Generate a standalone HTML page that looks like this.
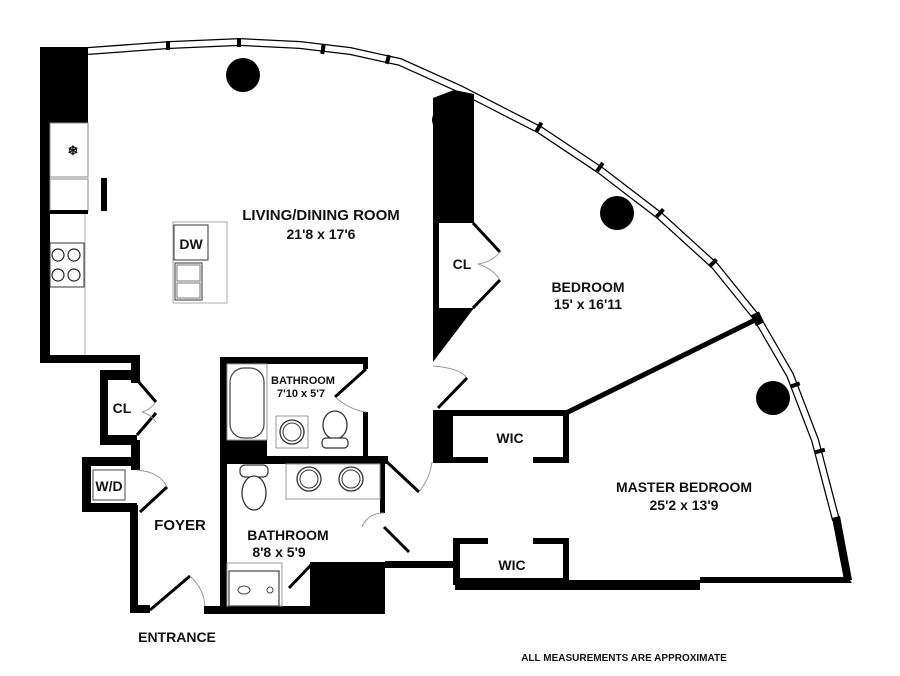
<!DOCTYPE html>
<html><head><meta charset="utf-8"><style>
html,body{margin:0;padding:0;background:#fff}
svg{display:block}
text{font-family:"Liberation Sans",Arial,sans-serif;font-weight:bold;fill:#111}
</style></head><body>
<svg width="900" height="676" viewBox="0 0 900 676" xmlns="http://www.w3.org/2000/svg">
<rect width="900" height="676" fill="#fff"/>
<polyline fill="none" stroke="#000" stroke-width="8" points="88,51 170,45 240,42 300,45 350,51 400,62 460,89 540,130 600,170 660,216 715,266 757,318 790,375 815,440 836,520"/>
<polyline fill="none" stroke="#fff" stroke-width="5.5" points="88,51 170,45 240,42 300,45 350,51 400,62 460,89 540,130 600,170 660,216 715,266 757,318 790,375 815,440 836,520"/>
<g fill="#000">
<rect x="166" y="41" width="4" height="9"/><rect x="237" y="38" width="4" height="9"/>
<rect x="321" y="45" width="4" height="9" transform="rotate(8 323 49)"/>
<rect x="386" y="55" width="4" height="9" transform="rotate(15 388 59)"/>
<rect x="537" y="122" width="4" height="10" transform="rotate(30 539 127)"/>
<rect x="598" y="162" width="4" height="10" transform="rotate(35 600 167)"/>
<rect x="658" y="208" width="4" height="10" transform="rotate(42 660 213)"/>
<rect x="711" y="258" width="4" height="10" transform="rotate(45 713 263)"/>
<rect x="793" y="380" width="4" height="10" transform="rotate(70 795 385)"/>
<rect x="818" y="446" width="4" height="10" transform="rotate(75 820 451)"/>
</g>
<polygon points="832,518 840,516 852,580 844,580" fill="#000"/>
<rect x="40" y="47" width="48" height="76" fill="#000"/>
<rect x="40" y="120" width="10" height="243" fill="#000"/>
<rect x="50" y="123" width="38" height="54" fill="#fff" stroke="#888" stroke-width="1"/>
<text x="73" y="155" font-size="13" font-weight="normal" text-anchor="middle">❄</text>
<rect x="50" y="179" width="38" height="32" fill="#fff" stroke="#888" stroke-width="1"/>
<rect x="101" y="178" width="6" height="33" fill="#000"/>
<rect x="50" y="210" width="38" height="4" fill="#000"/>
<line x1="85" y1="214" x2="85" y2="355" stroke="#aaa" stroke-width="1"/>
<rect x="50" y="243" width="34" height="44" fill="#fff" stroke="#333" stroke-width="1"/>
<g fill="none" stroke="#222" stroke-width="1.2"><circle cx="58" cy="255" r="6"/><circle cx="74" cy="255" r="6"/><circle cx="58" cy="275" r="6"/><circle cx="74" cy="275" r="6"/></g>
<rect x="40" y="355" width="100" height="8" fill="#000"/>
<rect x="131" y="355" width="9" height="28" fill="#000"/>
<path d="M100,370 H137 V380 H108 V435 H137 V445 H100 Z" fill="#000"/>
<line x1="137" y1="380" x2="156" y2="402" stroke="#000" stroke-width="3"/>
<line x1="137" y1="435" x2="156" y2="413" stroke="#000" stroke-width="3"/>
<path d="M142,412 Q150,410 156,402 M142,412 Q150,414 156,422" fill="none" stroke="#999" stroke-width="1"/>
<text x="122" y="413" font-size="14" text-anchor="middle">CL</text>
<rect x="131" y="440" width="9" height="30" fill="#000"/>
<path d="M82,457 H140 V466 H91 V503 H137 V512 H82 Z" fill="#000"/>
<rect x="93" y="470" width="32" height="30" fill="#fff" stroke="#444" stroke-width="1"/>
<text x="109" y="491" font-size="14" text-anchor="middle">W/D</text>
<line x1="140" y1="512" x2="167" y2="487" stroke="#000" stroke-width="3"/>
<path d="M137,470 Q160,472 167,487" fill="none" stroke="#999" stroke-width="1"/>
<rect x="130" y="505" width="8" height="108" fill="#000"/>
<rect x="130" y="605" width="20" height="8" fill="#000"/>
<line x1="150" y1="610" x2="190" y2="576" stroke="#000" stroke-width="3"/>
<path d="M190,576 Q205,590 205,608" fill="none" stroke="#999" stroke-width="1"/>
<text x="180" y="530" font-size="15" text-anchor="middle">FOYER</text>
<text x="177" y="642" font-size="14" text-anchor="middle">ENTRANCE</text>
<rect x="204" y="606" width="181" height="8" fill="#000"/>
<rect x="220" y="357" width="7" height="255" fill="#000"/>
<rect x="220" y="357" width="147" height="7" fill="#000"/>
<rect x="363" y="357" width="5" height="12" fill="#000"/>
<rect x="363" y="412" width="5" height="50" fill="#000"/>
<rect x="227" y="440" width="40" height="20" fill="#000"/>
<rect x="220" y="456" width="168" height="8" fill="#000"/>
<line x1="366" y1="369" x2="335" y2="397" stroke="#000" stroke-width="3"/>
<path d="M335,397 Q350,410 366,412" fill="none" stroke="#999" stroke-width="1"/>
<rect x="227" y="364" width="40" height="76" fill="none" stroke="#999" stroke-width="1"/>
<rect x="230" y="368" width="34" height="70" rx="14" fill="#fff" stroke="#444" stroke-width="1.2"/>
<rect x="276" y="416" width="32" height="32" fill="none" stroke="#999" stroke-width="1"/>
<circle cx="292" cy="432" r="12" fill="#fff" stroke="#333" stroke-width="1.3"/><circle cx="292" cy="432" r="9" fill="none" stroke="#333"/>
<ellipse cx="335" cy="425" rx="12" ry="14" fill="#fff" stroke="#333" stroke-width="1.3"/>
<rect x="322" y="438" width="26" height="10" rx="4" fill="#fff" stroke="#333" stroke-width="1.2"/>
<text x="303" y="384" font-size="11" font-weight="normal" text-anchor="middle">BATHROOM</text>
<text x="301" y="397" font-size="11" font-weight="normal" text-anchor="middle">7'10 x 5'7</text>
<rect x="380" y="463" width="5" height="50" fill="#000"/>
<line x1="384" y1="527" x2="409" y2="552" stroke="#000" stroke-width="3"/>
<path d="M384,513 Q368,513 362,527" fill="none" stroke="#999" stroke-width="1"/>
<rect x="286" y="464" width="94" height="35" fill="none" stroke="#999" stroke-width="1"/>
<circle cx="309" cy="479" r="12" fill="#fff" stroke="#333" stroke-width="1.3"/><circle cx="309" cy="479" r="9" fill="none" stroke="#333"/>
<circle cx="351" cy="479" r="12" fill="#fff" stroke="#333" stroke-width="1.3"/><circle cx="351" cy="479" r="9" fill="none" stroke="#333"/>
<rect x="240" y="465" width="28" height="12" rx="5" fill="#fff" stroke="#333" stroke-width="1.2"/>
<ellipse cx="254" cy="493" rx="12" ry="17" fill="#fff" stroke="#333" stroke-width="1.3"/>
<rect x="227" y="563" width="55" height="43" fill="none" stroke="#999" stroke-width="1"/>
<rect x="229" y="571" width="50" height="35" fill="#fff" stroke="#444" stroke-width="1.2"/>
<ellipse cx="244" cy="590" rx="6" ry="4" fill="none" stroke="#444"/>
<circle cx="270" cy="590" r="3" fill="none" stroke="#444"/>
<line x1="289" y1="588" x2="311" y2="565" stroke="#000" stroke-width="3"/>
<text x="288" y="540" font-size="14" font-weight="normal" text-anchor="middle">BATHROOM</text>
<text x="279" y="557" font-size="14" font-weight="normal" text-anchor="middle">8'8 x 5'9</text>
<rect x="310" y="562" width="75" height="52" fill="#000"/>
<rect x="385" y="561" width="72" height="7" fill="#000"/>
<line x1="387" y1="462" x2="419" y2="492" stroke="#000" stroke-width="3"/>
<path d="M419,492 Q430,478 432,462" fill="none" stroke="#999" stroke-width="1"/>
<polygon points="433,98 454,90 474,94 474,223 433,223" fill="#000"/>
<circle cx="443" cy="120" r="11" fill="#000"/>
<rect x="433" y="223" width="6" height="85" fill="#000"/>
<line x1="473" y1="223" x2="500" y2="252" stroke="#000" stroke-width="3"/>
<line x1="473" y1="308" x2="500" y2="280" stroke="#000" stroke-width="3"/>
<path d="M478,264 Q492,262 500,252 M478,264 Q492,268 500,280" fill="none" stroke="#999" stroke-width="1"/>
<text x="462" y="269" font-size="14" text-anchor="middle">CL</text>
<polygon points="433,308 474,308 433,362" fill="#000"/>
<path d="M433,366 Q460,368 467,378" fill="none" stroke="#999" stroke-width="1"/>
<line x1="467" y1="378" x2="438" y2="408" stroke="#000" stroke-width="3"/>
<rect x="433" y="410" width="20" height="52" fill="#000"/>
<rect x="436" y="410" width="133" height="6" fill="#000"/>
<line x1="566" y1="413" x2="757" y2="319" stroke="#000" stroke-width="5"/>
<rect x="753" y="313" width="9" height="12" fill="#000" transform="rotate(-25 757 319)"/>
<rect x="563" y="410" width="6" height="53" fill="#000"/>
<rect x="433" y="457" width="55" height="6" fill="#000"/>
<rect x="533" y="457" width="36" height="6" fill="#000"/>
<text x="510" y="443" font-size="14" text-anchor="middle">WIC</text>
<path d="M453,538 H488 V544 H460 V578 H563 V544 H533 V538 H569 V585 H453 Z" fill="#000"/>
<polygon points="455,585 455,580 700,580 700,577 848,577 852,583 700,583 700,590 455,590" fill="#000"/>
<text x="512" y="570" font-size="14" text-anchor="middle">WIC</text>
<circle cx="243" cy="75" r="17" fill="#000"/>
<circle cx="617" cy="213" r="17" fill="#000"/>
<circle cx="773" cy="398" r="17" fill="#000"/>
<rect x="173" y="222" width="54" height="81" fill="none" stroke="#aaa" stroke-width="1"/>
<rect x="174" y="225" width="34" height="35" fill="#fff" stroke="#333" stroke-width="1"/>
<text x="191" y="249" font-size="14" text-anchor="middle">DW</text>
<rect x="175" y="263" width="27" height="37" fill="#fff" stroke="#555" stroke-width="1.2"/>
<rect x="177" y="265" width="23" height="16" fill="none" stroke="#777"/>
<rect x="177" y="283" width="23" height="15" fill="none" stroke="#777"/>
<text x="321" y="220" font-size="15" text-anchor="middle">LIVING/DINING ROOM</text>
<text x="321" y="239" font-size="14" text-anchor="middle">21'8 x 17'6</text>
<text x="588" y="292" font-size="14" font-weight="normal" text-anchor="middle">BEDROOM</text>
<text x="588" y="309" font-size="14" font-weight="normal" text-anchor="middle">15' x 16'11</text>
<text x="684" y="492" font-size="14" text-anchor="middle">MASTER BEDROOM</text>
<text x="684" y="510" font-size="14" text-anchor="middle">25'2 x 13'9</text>
<text x="624" y="661" font-size="10" text-anchor="middle">ALL MEASUREMENTS ARE APPROXIMATE</text>
</svg>
</body></html>
